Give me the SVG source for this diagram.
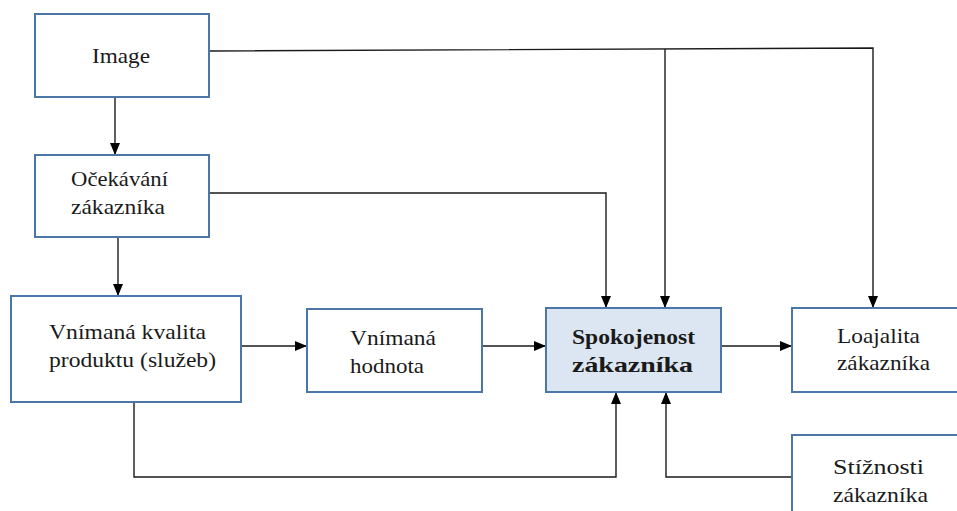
<svg xmlns="http://www.w3.org/2000/svg" width="957" height="511" viewBox="0 0 957 511">
  <style>
    .box { fill: #ffffff; stroke: #4a76a8; stroke-width: 2; }
    .main { fill: #dce6f2; }
    .t { font-family: "Liberation Serif", "DejaVu Serif", serif; font-size: 21px; fill: #1a1a1a; }
    .b { font-weight: bold; }
    .c { fill: none; stroke: #1a1a1a; stroke-width: 1.4; }
  </style>
  <defs>
    <marker id="arr" viewBox="0 0 12 10" refX="12" refY="5" markerWidth="12" markerHeight="10" markerUnits="userSpaceOnUse" orient="auto">
      <path d="M0 0 L12 5 L0 10 Z" fill="#000"/>
    </marker>
  </defs>
  <rect width="957" height="511" fill="#ffffff"/>

  <g id="connectors">
    <path class="c" d="M115 97 V155" marker-end="url(#arr)"/>
    <path class="c" d="M118 237 V296" marker-end="url(#arr)"/>
    <path class="c" d="M241 346 H307" marker-end="url(#arr)"/>
    <path class="c" d="M482 346 H546" marker-end="url(#arr)"/>
    <path class="c" d="M721 346 H792" marker-end="url(#arr)"/>
    <path class="c" d="M209 51 L873 48 V308" marker-end="url(#arr)"/>
    <path class="c" d="M665 49 V308" marker-end="url(#arr)"/>
    <path class="c" d="M209 193 H606 V308" marker-end="url(#arr)"/>
    <path class="c" d="M134 402 V477 H616 V392" marker-end="url(#arr)"/>
    <path class="c" d="M792 477 H666 V392" marker-end="url(#arr)"/>
  </g>

  <g id="image">
    <rect class="box" x="35" y="14" width="174" height="83"/>
    <text class="t" x="92" y="63" textLength="58" lengthAdjust="spacingAndGlyphs">Image</text>
  </g>
  <g id="ocekavani">
    <rect class="box" x="35" y="155" width="174" height="82"/>
    <text class="t" x="71" y="186" textLength="97" lengthAdjust="spacingAndGlyphs">Očekávání</text>
    <text class="t" x="71" y="214" textLength="94" lengthAdjust="spacingAndGlyphs">zákazníka</text>
  </g>
  <g id="kvalita">
    <rect class="box" x="11" y="296" width="230" height="106"/>
    <text class="t" x="49" y="339" textLength="157" lengthAdjust="spacingAndGlyphs">Vnímaná kvalita</text>
    <text class="t" x="49" y="367" textLength="167" lengthAdjust="spacingAndGlyphs">produktu (služeb)</text>
  </g>
  <g id="hodnota">
    <rect class="box" x="307" y="309" width="175" height="83"/>
    <text class="t" x="350" y="345" textLength="86" lengthAdjust="spacingAndGlyphs">Vnímaná</text>
    <text class="t" x="350" y="373" textLength="74" lengthAdjust="spacingAndGlyphs">hodnota</text>
  </g>
  <g id="spokojenost">
    <rect class="box main" x="546" y="308" width="175" height="84"/>
    <text class="t b" x="572" y="344" textLength="123" lengthAdjust="spacingAndGlyphs">Spokojenost</text>
    <text class="t b" x="572" y="372" textLength="121" lengthAdjust="spacingAndGlyphs">zákazníka</text>
  </g>
  <g id="loajalita">
    <rect class="box" x="792" y="308" width="200" height="84"/>
    <text class="t" x="837" y="343" textLength="83" lengthAdjust="spacingAndGlyphs">Loajalita</text>
    <text class="t" x="837" y="370" textLength="93" lengthAdjust="spacingAndGlyphs">zákazníka</text>
  </g>
  <g id="stiznosti">
    <rect class="box" x="792" y="435" width="200" height="100"/>
    <text class="t" x="833" y="474" textLength="91" lengthAdjust="spacingAndGlyphs">Stížnosti</text>
    <text class="t" x="833" y="502" textLength="95" lengthAdjust="spacingAndGlyphs">zákazníka</text>
  </g>
</svg>
